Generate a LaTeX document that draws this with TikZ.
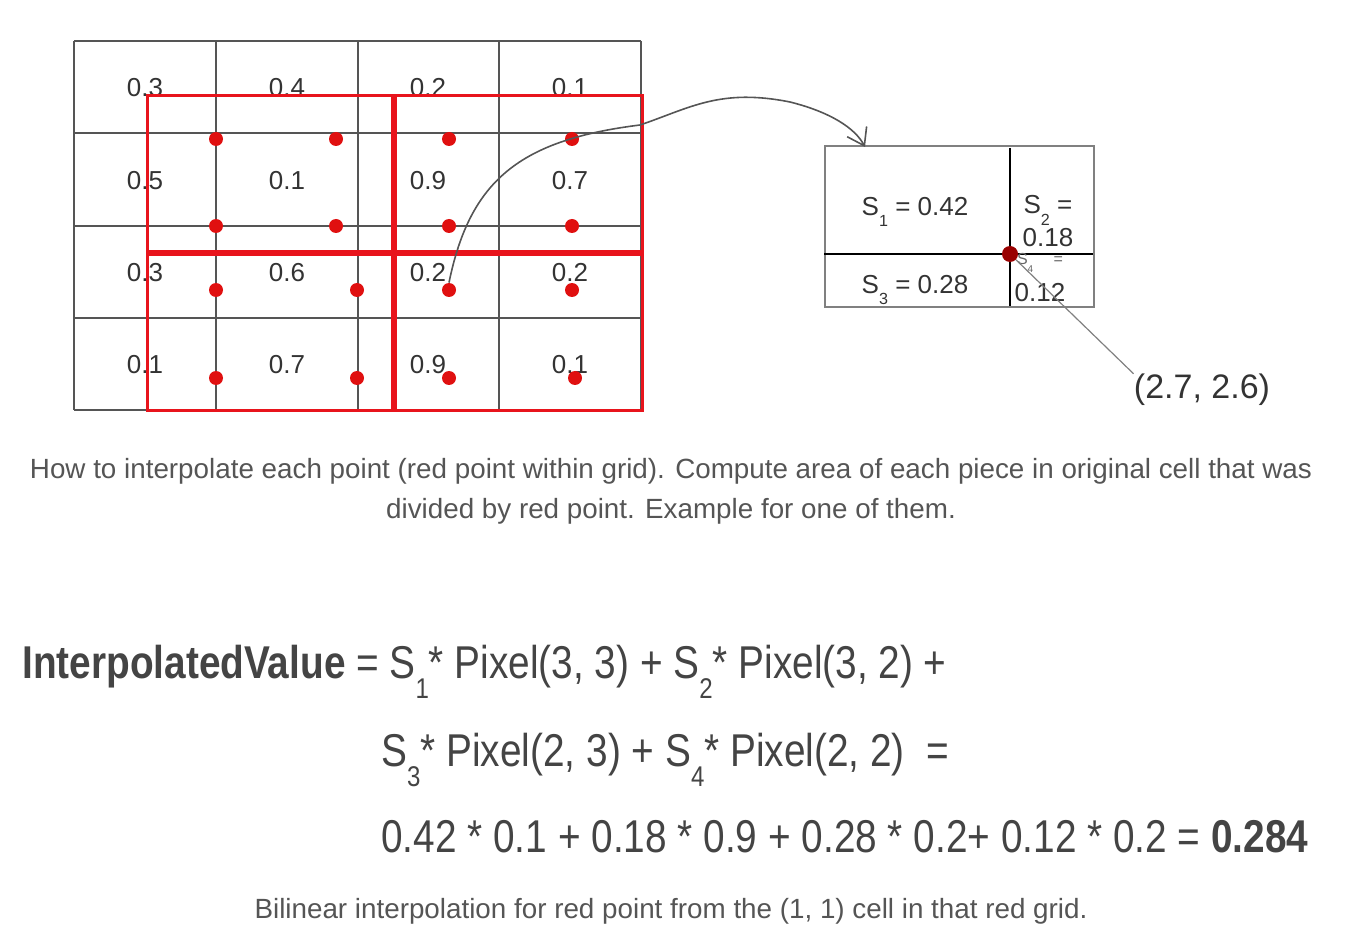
\documentclass[tikz,border=0pt]{standalone}
\usepackage{fontspec}
\setmainfont{Liberation Sans}
\usetikzlibrary{arrows.meta}
\definecolor{gridgray}{HTML}{555555}
\definecolor{redline}{HTML}{E8141C}
\definecolor{reddot}{HTML}{E01010}
\definecolor{txtgray}{HTML}{444444}
\definecolor{capgray}{HTML}{555555}
\newcommand\subsc[1]{\raisebox{-0.45em}{\scalebox{0.62}{#1}}}
\tikzset{
  gridline/.style={draw=gridgray, line width=0.8pt},
  redbox/.style={draw=redline, line width=1.5pt},
  rdot/.style={circle, fill=reddot, inner sep=0pt, minimum size=7pt},
  cellval/.style={font=\fontsize{13}{15}\selectfont, text=black!80, inner sep=0pt},
  boxval/.style={font=\fontsize{13}{15}\selectfont, text=black!80, inner sep=0pt, align=center},
  captext/.style={font=\fontsize{13.9}{20}\selectfont, text=capgray, inner sep=0pt, anchor=base},
  formula/.style={font=\fontsize{23}{28}\selectfont, text=txtgray, inner sep=0pt, anchor=base west, xscale=0.843}
}
\begin{document}
\begin{tikzpicture}[x=0.5pt, y=-0.5pt]
		\useasboundingbox (0,0) rectangle (1350,952);
		% black grid
		\foreach \gx in {74,216,358,499,641} \draw[gridline] (\gx,41) -- (\gx,410);
		\foreach \gy in {41,133,226,318,410} \draw[gridline] (74,\gy) -- (641,\gy);
		%%%%%%%
		\node(v11)[cellval] at (145, 88) {0.3};
		\node(v12)[cellval] at (287, 88) {0.4};
		\node(v13)[cellval] at (428, 88) {0.2};
		\node(v14)[cellval] at (570, 88) {0.1};
		%%%%%%%
		\node(v21)[cellval] at (145, 181) {0.5};
		\node(v22)[cellval] at (287, 181) {0.1};
		\node(v23)[cellval] at (428, 181) {0.9};
		\node(v24)[cellval] at (570, 181) {0.7};
		%%%%%%%
		\node(v31)[cellval] at (145, 273) {0.3};
		\node(v32)[cellval] at (287, 273) {0.6};
		\node(v33)[cellval] at (428, 273) {0.2};
		\node(v34)[cellval] at (570, 273) {0.2};
		%%%%%%%
		\node(v41)[cellval] at (145, 365) {0.1};
		\node(v42)[cellval] at (287, 365) {0.7};
		\node(v43)[cellval] at (428, 365) {0.9};
		\node(v44)[cellval] at (570, 365) {0.1};
		% red grid
		\draw[redbox] (147,96) rectangle (392,252);
		\draw[redbox] (395,96) rectangle (642,252);
		\draw[redbox] (147,255) rectangle (392,410);
		\draw[redbox] (395,255) rectangle (642,410);
		% red points
		\node(d11)[rdot] at (216,139) {};
		\node(d12)[rdot] at (336,139) {};
		\node(d13)[rdot] at (449,139) {};
		\node(d14)[rdot] at (572,139) {};
		\node(d21)[rdot] at (216,226) {};
		\node(d22)[rdot] at (336,226) {};
		\node(d23)[rdot] at (449,226) {};
		\node(d24)[rdot] at (572,226) {};
		\node(d31)[rdot] at (216,290) {};
		\node(d32)[rdot] at (357,290) {};
		\node(d33)[rdot] at (449,290) {};
		\node(d34)[rdot] at (572,290) {};
		\node(d41)[rdot] at (216,378) {};
		\node(d42)[rdot] at (357,378) {};
		\node(d43)[rdot] at (449,378) {};
		\node(d44)[rdot] at (575,378) {};
		% zoomed cell
		\node(cell)[draw=gray, line width=0.8pt, minimum width=134.5pt, minimum height=80.5pt, inner sep=0pt, anchor=north west] at (824,145) {};
		\coordinate(tip) at (865,147);
		\draw[black, line width=1.4pt] (1010,148) -- (1010,306);
		\draw[black, line width=1.4pt] (824,254) -- (1093,254);
		\node(pt)[circle, fill=red!60!black, inner sep=0pt, minimum size=8pt] at (1010,254) {};
		\node(s1)[boxval] at (915,212) {S\subsc{1} = 0.42};
		\node(s2)[boxval, font=\fontsize{13}{16.5}\selectfont] at (1048,221) {S\subsc{2} =\\0.18};
		\node(s3)[boxval] at (915,290) {S\subsc{3} = 0.28};
		\node(s4)[boxval, text=black!60, font=\fontsize{8}{9}\selectfont] at (1040,263) {S\subsc{4} \quad =};
		\node(s4v)[boxval] at (1040,293) {0.12};
		\draw[-{Straight Barb[length=8pt, width=11pt]}, gridgray, line width=0.8pt] (d33.north) .. controls (470,180) and (520,140) .. (640,125) .. controls (690,108) and (720,88) .. (790,102) .. controls (830,112) and (855,128) .. (tip);
		\node(coord)[font=\fontsize{17}{20}\selectfont, text=black!80, inner sep=0pt] at (1202,390) {(2.7, 2.6)};
		\draw[gray, line width=0.6pt] (pt) -- (coord.north west);
		% captions
		\node(cap1)[captext] at (671,478) {How to interpolate each point (red point within grid). Compute area of each piece in original cell that was};
		\node(cap2)[captext] at (671,518) {divided by red point. Example for one of them.};
		\node(eq1)[formula] at (22,678) {\textbf{InterpolatedValue} = S\subsc{1}* Pixel(3, 3) + S\subsc{2}* Pixel(3, 2) +};
		\node(eq2)[formula] at (381,766) {S\subsc{3}* Pixel(2, 3) + S\subsc{4}* Pixel(2, 2) \ =};
		\node(eq3)[formula] at (381,852) {0.42 * 0.1 + 0.18 * 0.9 + 0.28 * 0.2+ 0.12 * 0.2 = \textbf{0.284}};
		\node(cap3)[captext] at (671,918) {Bilinear interpolation for red point from the (1, 1) cell in that red grid.};
\end{tikzpicture}
\end{document}
